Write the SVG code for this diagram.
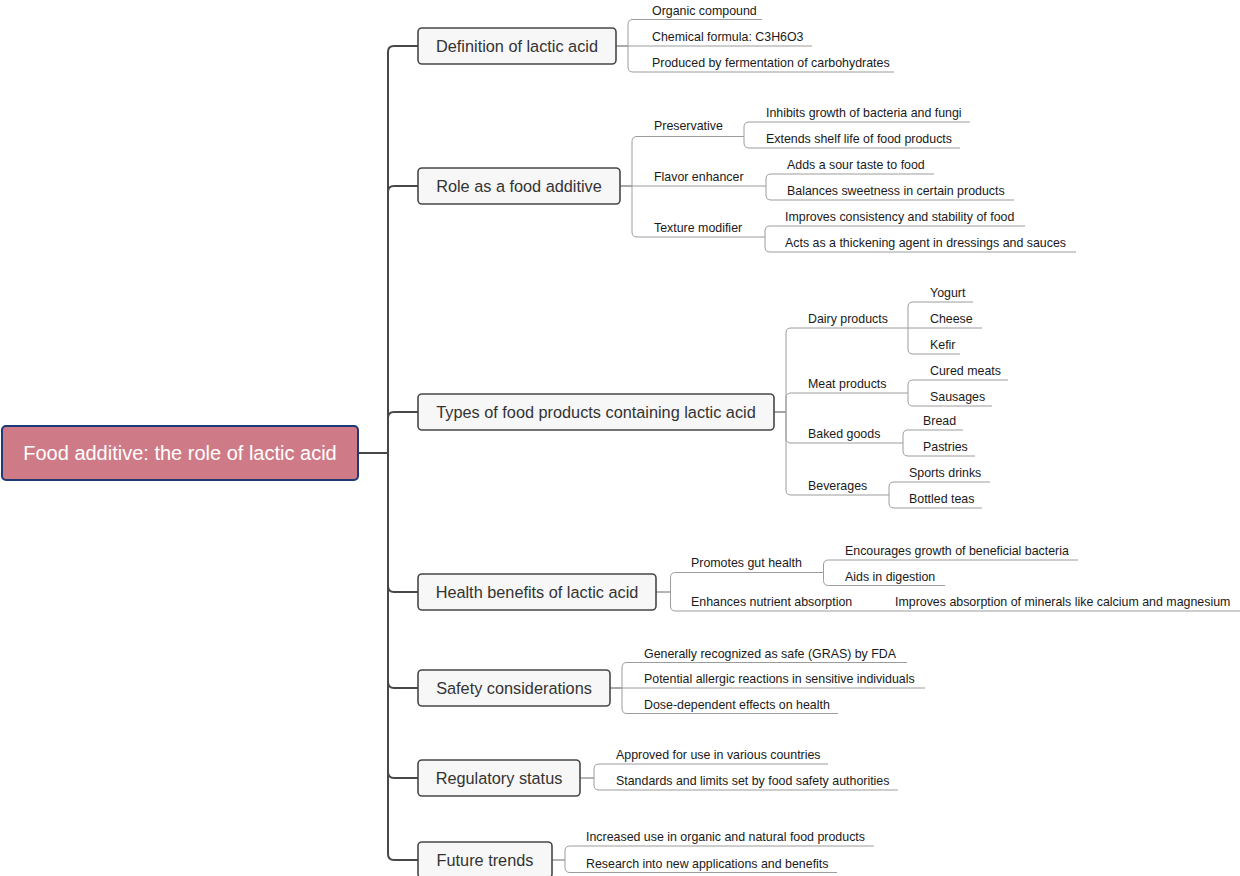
<svg xmlns="http://www.w3.org/2000/svg" width="1240" height="876" viewBox="0 0 1240 876">
<style>
.main{fill:none;stroke:#474747;stroke-width:2}
.sub{fill:none;stroke:#9c9c9c;stroke-width:1}
.box{fill:#f7f7f7;stroke:#474747;stroke-width:1.6}
.bt{font-family:"Liberation Sans",Arial,sans-serif;font-size:16.3px;fill:#333;text-anchor:middle}
.lt{font-family:"Liberation Sans",Arial,sans-serif;font-size:12.4px;fill:#1a1a1a}
.rt{font-family:"Liberation Sans",Arial,sans-serif;font-size:20px;fill:#fff;text-anchor:middle}
</style>
<rect width="1240" height="876" fill="#fff"/>
<g id="connectors">
<path class="main" d="M358,453 H388"/>
<path class="main" d="M388,453 V52 Q388,46 394,46 H418"/>
<path class="main" d="M388,453 V192 Q388,186 394,186 H418"/>
<path class="main" d="M388,453 V418 Q388,412 394,412 H418"/>
<path class="main" d="M388,453 V586 Q388,592 394,592 H418"/>
<path class="main" d="M388,453 V682 Q388,688 394,688 H418"/>
<path class="main" d="M388,453 V772 Q388,778 394,778 H418"/>
<path class="main" d="M388,453 V854 Q388,860 394,860 H418"/>

<path class="sub" d="M616,46 H628 V24.5 Q628,19.5 633,19.5 H762"/>
<path class="sub" d="M616,46 H812"/>
<path class="sub" d="M616,46 H628 V67 Q628,72 633,72 H894"/>

<path class="sub" d="M620,186 H632 V141.5 Q632,136.5 637,136.5 H744"/>
<path class="sub" d="M620,186 H766"/>
<path class="sub" d="M620,186 H632 V232 Q632,237 637,237 H765"/>
<path class="sub" d="M744,136.5 V127 Q744,122 749,122 H970"/>
<path class="sub" d="M744,136.5 V143 Q744,148 749,148 H960"/>
<path class="sub" d="M766,186 V179 Q766,174 771,174 H934"/>
<path class="sub" d="M766,186 V195 Q766,200 771,200 H1014"/>
<path class="sub" d="M765,237 V231 Q765,226 770,226 H1025"/>
<path class="sub" d="M765,237 V247 Q765,252 770,252 H1076"/>

<path class="sub" d="M774,412 H786 V333 Q786,328 791,328 H908"/>
<path class="sub" d="M774,412 H786 V398 Q786,393 791,393 H908"/>
<path class="sub" d="M774,412 H786 V438 Q786,443 791,443 H903"/>
<path class="sub" d="M774,412 H786 V490 Q786,495 791,495 H889"/>
<path class="sub" d="M908,328 V307 Q908,302 913,302 H973"/>
<path class="sub" d="M908,328 H982"/>
<path class="sub" d="M908,328 V349 Q908,354 913,354 H960"/>
<path class="sub" d="M908,393 V385 Q908,380 913,380 H1008"/>
<path class="sub" d="M908,393 V401 Q908,406 913,406 H992"/>
<path class="sub" d="M903,443 V435 Q903,430 908,430 H963"/>
<path class="sub" d="M903,443 V451 Q903,456 908,456 H975"/>
<path class="sub" d="M889,495 V487 Q889,482 894,482 H990"/>
<path class="sub" d="M889,495 V503 Q889,508 894,508 H982"/>

<path class="sub" d="M656,592 H670.5 V577.5 Q670.5,572.5 675.5,572.5 H823.5"/>
<path class="sub" d="M656,592 H670.5 V606 Q670.5,611 675.5,611 H1240"/>
<path class="sub" d="M823.5,572.5 V565 Q823.5,560 828.5,560 H1078"/>
<path class="sub" d="M823.5,572.5 V580.5 Q823.5,585.5 828.5,585.5 H945"/>

<path class="sub" d="M610,688 H622 V667.5 Q622,662.5 627,662.5 H907"/>
<path class="sub" d="M610,688 H925"/>
<path class="sub" d="M610,688 H622 V708.5 Q622,713.5 627,713.5 H838"/>

<path class="sub" d="M580,778 H594 V769 Q594,764 599,764 H828"/>
<path class="sub" d="M580,778 H594 V785 Q594,790 599,790 H898"/>

<path class="sub" d="M552,860 H565 V851 Q565,846 570,846 H874"/>
<path class="sub" d="M552,860 H565 V867.5 Q565,872.5 570,872.5 H837"/>
</g>

<g id="root">
<rect x="2" y="426" width="356" height="54" rx="4" fill="#cf7b87" stroke="#1d3a76" stroke-width="2"/>
<text class="rt" x="180" y="460">Food additive: the role of lactic acid</text>
</g>

<g id="definition">
<rect class="box" x="418" y="28" width="198" height="36" rx="4"/>
<text class="bt" x="517" y="51.8">Definition of lactic acid</text>
</g>
<g id="definition-leaves">
<text class="lt" x="652" y="14.5">Organic compound</text>
<text class="lt" x="652" y="41">Chemical formula: C3H6O3</text>
<text class="lt" x="652" y="67">Produced by fermentation of carbohydrates</text>
</g>

<g id="role">
<rect class="box" x="418" y="168" width="202" height="36" rx="4"/>
<text class="bt" x="519" y="191.8">Role as a food additive</text>
</g>
<g id="preservative">
<text class="lt" x="654" y="130">Preservative</text>
<text class="lt" x="766" y="117">Inhibits growth of bacteria and fungi</text>
<text class="lt" x="766" y="143">Extends shelf life of food products</text>
</g>
<g id="flavor">
<text class="lt" x="654" y="181">Flavor enhancer</text>
<text class="lt" x="787" y="169">Adds a sour taste to food</text>
<text class="lt" x="787" y="195">Balances sweetness in certain products</text>
</g>
<g id="texture">
<text class="lt" x="654" y="231.5">Texture modifier</text>
<text class="lt" x="785" y="221">Improves consistency and stability of food</text>
<text class="lt" x="785" y="247">Acts as a thickening agent in dressings and sauces</text>
</g>

<g id="types">
<rect class="box" x="418" y="394" width="356" height="36" rx="4"/>
<text class="bt" x="596" y="417.8">Types of food products containing lactic acid</text>
</g>
<g id="dairy">
<text class="lt" x="808" y="323">Dairy products</text>
<text class="lt" x="930" y="297">Yogurt</text>
<text class="lt" x="930" y="323">Cheese</text>
<text class="lt" x="930" y="349">Kefir</text>
</g>
<g id="meat">
<text class="lt" x="808" y="388">Meat products</text>
<text class="lt" x="930" y="375">Cured meats</text>
<text class="lt" x="930" y="401">Sausages</text>
</g>
<g id="baked">
<text class="lt" x="808" y="438">Baked goods</text>
<text class="lt" x="923" y="425">Bread</text>
<text class="lt" x="923" y="451">Pastries</text>
</g>
<g id="beverages">
<text class="lt" x="808" y="490">Beverages</text>
<text class="lt" x="909" y="477">Sports drinks</text>
<text class="lt" x="909" y="503">Bottled teas</text>
</g>

<g id="health">
<rect class="box" x="418" y="574" width="238" height="36" rx="4"/>
<text class="bt" x="537" y="597.8">Health benefits of lactic acid</text>
</g>
<g id="gut">
<text class="lt" x="691" y="567">Promotes gut health</text>
<text class="lt" x="845" y="555">Encourages growth of beneficial bacteria</text>
<text class="lt" x="845" y="580.5">Aids in digestion</text>
</g>
<g id="absorption">
<text class="lt" x="691" y="605.5">Enhances nutrient absorption</text>
<text class="lt" x="895" y="605.5">Improves absorption of minerals like calcium and magnesium</text>
</g>

<g id="safety">
<rect class="box" x="418" y="670" width="192" height="36" rx="4"/>
<text class="bt" x="514" y="693.8">Safety considerations</text>
</g>
<g id="safety-leaves">
<text class="lt" x="644" y="657.5">Generally recognized as safe (GRAS) by FDA</text>
<text class="lt" x="644" y="683">Potential allergic reactions in sensitive individuals</text>
<text class="lt" x="644" y="708.5">Dose-dependent effects on health</text>
</g>

<g id="regulatory">
<rect class="box" x="418" y="760" width="162" height="36" rx="4"/>
<text class="bt" x="499" y="783.8">Regulatory status</text>
</g>
<g id="regulatory-leaves">
<text class="lt" x="616" y="759">Approved for use in various countries</text>
<text class="lt" x="616" y="785">Standards and limits set by food safety authorities</text>
</g>

<g id="future">
<rect class="box" x="418" y="842" width="134" height="36" rx="4"/>
<text class="bt" x="485" y="865.8">Future trends</text>
</g>
<g id="future-leaves">
<text class="lt" x="586" y="841">Increased use in organic and natural food products</text>
<text class="lt" x="586" y="867.5">Research into new applications and benefits</text>
</g>
</svg>
